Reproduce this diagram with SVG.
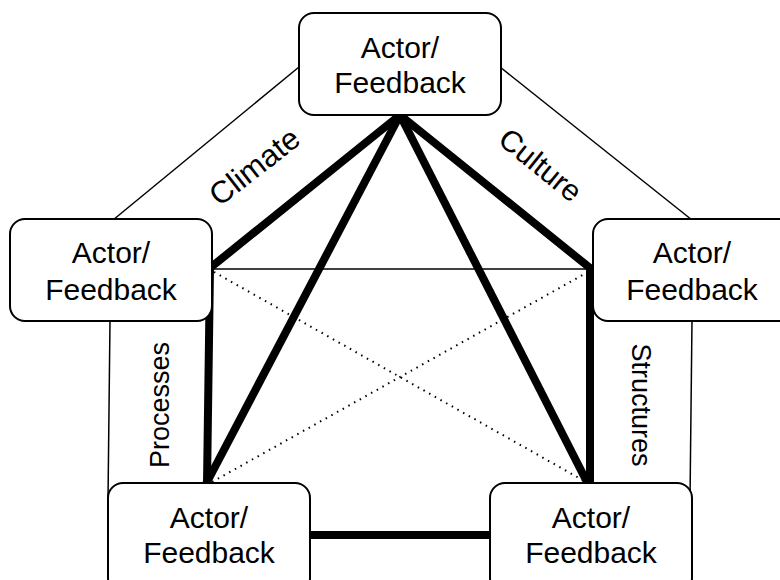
<svg xmlns="http://www.w3.org/2000/svg" width="780" height="580" viewBox="0 0 780 580">
<style>
.node rect{fill:#fff;stroke:#000;stroke-width:2}
.node text,.lbl{font-family:"Liberation Sans",Arial,sans-serif;font-size:30px;fill:#000;text-anchor:middle}
.lbl{font-size:27px}
.thin{stroke:#000;stroke-width:1.5;fill:none}
.thick{stroke:#000;stroke-width:8;fill:none;stroke-linecap:butt}
.dot{stroke:#000;stroke-width:2;stroke-dasharray:1.5 5;fill:none}
</style>
<rect width="780" height="580" fill="#fff"/>
<g id="connectors">
<line class="thin" x1="299" y1="67" x2="113" y2="220"/>
<line class="thin" x1="500" y1="67" x2="692" y2="220"/>
<line class="thin" x1="110" y1="320" x2="108" y2="500"/>
<line class="thin" x1="692" y1="320" x2="690" y2="500"/>
<line class="thin" x1="212" y1="269" x2="593" y2="269"/>
<line class="dot" x1="214" y1="272" x2="586" y2="482"/>
<line class="dot" x1="588" y1="272" x2="212" y2="482"/>
<path class="thick" d="M400 115 L210 268 L207 484"/>
<path class="thick" d="M400 115 L590 268 L590 484"/>
<line class="thick" x1="400" y1="115" x2="206" y2="484"/>
<line class="thick" x1="400" y1="115" x2="588" y2="484"/>
<line class="thick" x1="309" y1="535" x2="490" y2="535"/>
</g>
<g id="n-top" class="node"><rect x="299" y="13" width="202" height="102" rx="15"/><text x="400" y="58">Actor/</text><text x="400" y="93">Feedback</text></g>
<g id="n-left" class="node"><rect x="10" y="219" width="202" height="102" rx="15"/><text x="111" y="263">Actor/</text><text x="111" y="300">Feedback</text></g>
<g id="n-right" class="node"><rect x="593" y="219" width="202" height="102" rx="15"/><text x="692" y="263">Actor/</text><text x="692" y="300">Feedback</text></g>
<g id="n-bl" class="node"><rect x="108" y="483" width="202" height="110" rx="15"/><text x="209" y="528">Actor/</text><text x="209" y="563">Feedback</text></g>
<g id="n-br" class="node"><rect x="490" y="483" width="202" height="110" rx="15"/><text x="591" y="528">Actor/</text><text x="591" y="563">Feedback</text></g>
<g id="labels">
<text class="lbl" transform="translate(261,175) rotate(-38)" style="font-size:31px">Climate</text>
<text class="lbl" transform="translate(534,173) rotate(39)" style="font-size:30px">Culture</text>
<text class="lbl" transform="translate(169,405) rotate(-90)">Processes</text>
<text class="lbl" transform="translate(632,405) rotate(90)">Structures</text>
</g>
</svg>
